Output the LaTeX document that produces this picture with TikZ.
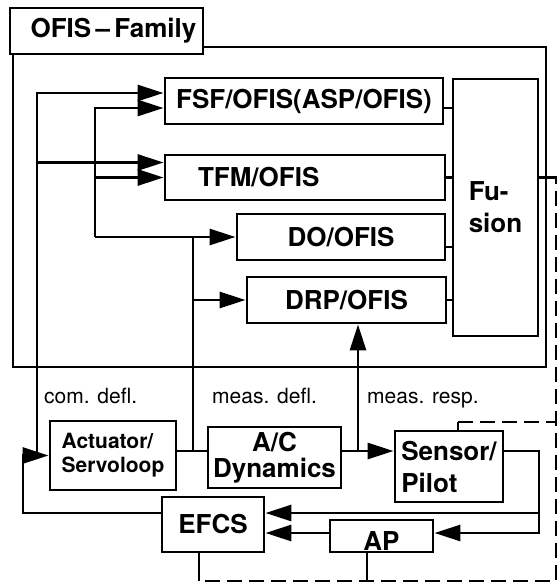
\documentclass[tikz,border=0pt]{standalone}
\usepackage{fontspec}
\setmainfont{TeX Gyre Heros}
\usetikzlibrary{arrows.meta, positioning, calc}

\begin{document}
\begin{tikzpicture}[
  x=1pt, y=-1pt,
  blk/.style={draw, line width=2.9pt, fill=white, inner sep=0pt, font=\fontsize{26}{30}\selectfont\bfseries},
  sig/.style={line width=2.9pt},
  arr/.style={sig, -{Triangle[length=26pt, width=16pt]}},
  fb/.style={sig, dash pattern=on 15pt off 7pt},
  lbl/.style={anchor=base west, inner sep=0pt, font=\fontsize{21}{24}\selectfont}
]
  \useasboundingbox (0,0) rectangle (558,584);
  \node[draw, line width=2.9pt, minimum width=533pt, minimum height=320pt] (family) at (279.5,207) {};
  \node[blk, minimum width=193pt, minimum height=46pt] (famlabel) at (106.5,31) {\hspace*{14pt}OFIS\,\textendash\,Family};
  \node[blk, minimum width=278pt, minimum height=46pt] (fsf) at (304,101) {FSF/OFIS(ASP/OFIS)};
  \node[blk, minimum height=45pt, text width=214pt, inner xsep=33pt, align=left] (tfm) at (305,177.5) {TFM/OFIS};
  \node[blk, minimum width=208pt, minimum height=46pt] (dofis) at (341,237) {DO/OFIS};
  \node[blk, minimum width=199pt, minimum height=46pt] (drp) at (346.5,300) {DRP/OFIS};
  \node[blk, minimum width=85pt, minimum height=257pt, align=left, font=\fontsize{26}{32}\selectfont\bfseries] (fusion) at (495.5,207.5) {Fu-\\sion};

  \node[blk, minimum width=126pt, minimum height=69pt, align=left, font=\fontsize{21}{24}\selectfont\bfseries] (act) at (113,455.5) {Actuator/\\Servoloop};
  \node[blk, minimum width=133pt, minimum height=61pt, align=center, font=\fontsize{26}{26}\selectfont\bfseries] (acd) at (274.5,457.5) {A/C\\Dynamics};
  \node[blk, minimum width=108pt, minimum height=71pt, align=left, font=\fontsize{26}{32}\selectfont\bfseries] (sen) at (449,466.5) {Sensor/\\Pilot};
  \node[blk, minimum width=102pt, minimum height=55pt] (efcs) at (213,524.5) {EFCS};
  \node[blk, minimum width=103pt, minimum height=32pt, text height=28pt, text depth=0pt] (ap) at (381.5,536) {AP};

  \node[lbl] (lcom) at (44,403) {com. defl.};
  \node[lbl] (ldefl) at (212,403) {meas. defl.};
  \node[lbl] (lresp) at (367,403) {meas. resp.};

  \coordinate (cx) at (37,0);
  \coordinate (mx) at (95,0);
  \coordinate (dx) at (193,0);
  \coordinate (rx) at (358,0);
  \coordinate (lx) at (23,0);
  \coordinate (ex) at (539,0);
  \coordinate (dr) at (556,0);
  \coordinate (sy) at (0,451);
  \coordinate (f1) at (0,513);
  \coordinate (f2) at (0,533);
  \coordinate (ty) at (0,422);
  \coordinate (by) at (0,581);
  \coordinate (fsfa) at ([yshift=8pt]fsf.west);
  \coordinate (fsfb) at ([yshift=-7pt]fsf.west);
  \coordinate (tfma) at ([yshift=15pt]tfm.west);
  \coordinate (doout) at ([yshift=-10pt]dofis.east);
  \coordinate (fo) at (fusion.east |- tfm.east);
  \coordinate (e1) at ([xshift=-14pt]efcs.south);
  \coordinate (a1) at ([xshift=-14.5pt]ap.south);
  \coordinate (s1) at ([xshift=9pt]sen.north);

  \draw[arr] (act.west -| cx) |- (fsfa);
  \draw[arr] (cx |- tfma) -- (tfma);
  \draw[arr] (dofis.west -| mx) |- (fsfb);
  \draw[arr] (mx |- tfm.west) -- (tfm.west);
  \draw[arr] (mx |- dofis.west) -- (dofis.west);
  \draw[sig] (sy -| dx) -- (dx |- dofis.west);
  \draw[arr] (dx |- drp.west) -- (drp.west);
  \draw[arr] (sy -| rx) -- (rx |- drp.south);

  \draw[sig] (fsfb -| fsf.east) -- (fsfb -| fusion.west);
  \draw[sig] (tfm.east) -- (tfm.east -| fusion.west);
  \draw[sig] (doout) -- (doout -| fusion.west);
  \draw[sig] (drp.east) -- (drp.east -| fusion.west);

  \draw[arr] (efcs.west |- f1) -| (lx |- act.west) -- (act.west);
  \draw[sig] (act.east |- sy) -- (acd.west |- sy);
  \draw[arr] (acd.east |- sy) -- (sen.west |- sy);
  \draw[arr] (sen.east |- sy) -| (ex |- f2) -- (ap.east |- f2);
  \draw[arr] (ex |- f1) -- (efcs.east |- f1);
  \draw[arr] (ap.west |- f2) -- (efcs.east |- f2);

  \draw[sig] (fo) -- (family.east |- fo);
  \draw[fb] (family.east |- fo) -- (dr |- fo) -- (dr |- by) -- (e1 |- by);
  \draw[sig] (e1) -- (e1 |- by);
  \draw[sig] (a1) -- (a1 |- by);
  \draw[sig] (s1) -- (s1 |- ty);
  \draw[fb] (s1 |- ty) -- (dr |- ty);
\end{tikzpicture}
\end{document}
